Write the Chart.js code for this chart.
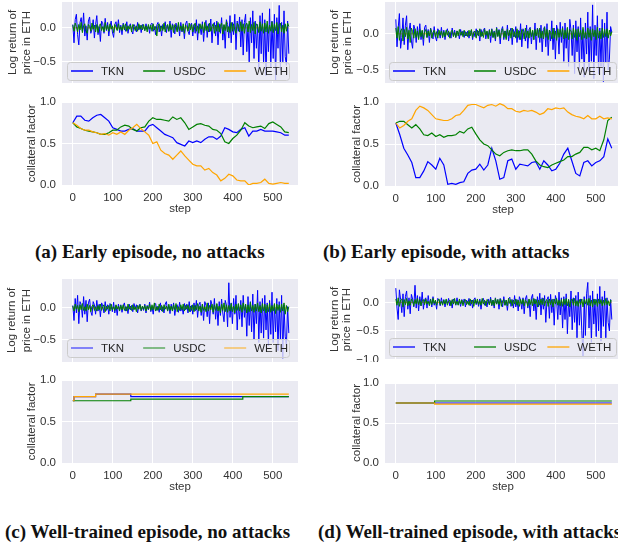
<!DOCTYPE html>
<html>
<head>
<meta charset="utf-8">
<script src="https://cdn.jsdelivr.net/npm/chart.js@4.4.1/dist/chart.umd.min.js"></script>
<style>
  body { margin: 0; width: 618px; height: 545px; overflow: hidden; background: #fff; position: relative; }
  .plot { position: absolute; }
  .cap { position: absolute; font: bold 19px "Liberation Serif", serif; color: #111; white-space: nowrap; line-height: 20px; }
</style>
</head>
<body>
<div class="cap" style="left:35px;top:242px">(a) Early episode, no attacks</div>
<div class="cap" style="left:323px;top:242px">(b) Early episode, with attacks</div>
<div class="cap" style="left:5px;top:522px">(c) Well-trained episode, no attacks</div>
<div class="cap" style="left:318px;top:522px">(d) Well-trained episode, with attacks</div>
<script>
// series names and colours
const seriesNames = ['TKN', 'USDC', 'WETH'];
const seriesColors = ['#0000ff', '#008000', '#ffa500'];
const stepTicks = [0, 100, 200, 300, 400, 500];
const cfTicks = [0, 0.5, 1];

// log return sampled every 3 steps (0..540), collateral factor every 10 steps (0..540)
const retSteps = Array.from({length: 181}, (_, i) => i * 3);
const cfSteps = Array.from({length: 55}, (_, i) => i * 10);
const wethRetSteps = [0, 540];
const wethRet = [0, 0];

// (a) early episode, no attacks
const aTknRet = [0.05,-0.22,0.12,0.2,-0.1,-0.25,0.08,0.15,-0.05,0.22,-0.12,0.03,-0.18,0.1,0.16,-0.08,-0.02,0.12,-0.15,0.05,
  0.18,-0.1,0.02,-0.2,0.1,0.06,-0.08,0.14,-0.04,0.08,-0.12,0.03,0.1,-0.06,-0.14,0.05,0.09,-0.03,0.12,-0.07,
  0.04,-0.1,0.07,0.02,-0.05,0.09,-0.08,0.03,0.06,-0.04,-0.09,0.05,0.02,-0.06,0.08,-0.03,0.04,-0.07,0.05,0.01,
  -0.04,0.06,-0.02,0.03,-0.08,0.05,0.07,-0.05,0.02,-0.1,0.04,0.08,-0.06,0.03,-0.12,0.05,-0.02,0.09,-0.07,0.04,
  -0.05,0.1,-0.14,0.06,0.02,-0.09,0.07,-0.04,0.05,-0.12,0.08,-0.06,0.03,-0.16,0.06,0.1,-0.05,-0.1,0.04,0.07,
  -0.12,0.05,-0.08,0.12,-0.18,0.06,0.02,-0.1,0.09,-0.2,0.04,0.11,-0.14,0.06,-0.06,0.13,-0.22,0.05,0.08,-0.12,
  0.1,-0.25,0.06,-0.08,0.15,-0.18,0.04,-0.3,0.12,0.05,-0.15,0.18,-0.22,0.08,-0.1,0.2,-0.32,0.1,-0.05,0.16,
  -0.28,0.12,-0.4,0.08,0.2,-0.35,0.05,-0.5,0.15,-0.22,0.25,-0.45,0.1,-0.3,0.05,-0.6,0.18,-0.38,0.22,-0.52,
  0.12,-0.7,0.05,-0.35,0.28,-0.58,0.1,-0.45,0.2,-0.78,0.15,-0.3,0.33,-0.62,0.08,-0.5,0.25,-0.42,-0.55,0.1,
  -0.38];
const aUsdcRet = [0.04,-0.05,0.07,0.02,-0.06,0.05,-0.03,0.08,-0.07,0.03,0.06,-0.04,-0.08,0.05,0.02,-0.05,0.07,-0.02,0.04,-0.06,
  0.05,-0.07,0.03,0.06,-0.04,0.02,-0.06,0.08,-0.03,0.04,-0.05,0.06,-0.02,0.03,-0.07,0.05,0.01,-0.04,0.06,-0.03,
  0.02,-0.04,0.05,-0.03,0.06,-0.05,0.03,-0.02,0.04,-0.06,0.05,0.02,-0.04,0.03,-0.05,0.06,-0.02,0.04,-0.03,0.05,
  -0.04,0.03,-0.06,0.05,-0.02,0.04,-0.05,0.06,-0.03,0.02,-0.12,0.04,0.06,-0.05,0.03,-0.04,0.07,-0.06,0.02,0.05,
  -0.05,0.06,-0.03,0.04,-0.07,0.05,0.02,-0.06,0.08,-0.04,0.03,-0.05,0.06,-0.08,0.04,0.02,-0.05,0.07,-0.03,0.05,
  -0.06,0.04,0.07,-0.05,0.03,-0.08,0.06,-0.02,0.05,-0.07,0.08,-0.04,0.03,-0.06,0.07,-0.05,0.02,0.06,-0.08,0.04,
  -0.05,0.08,-0.06,0.03,0.07,-0.09,0.05,-0.04,0.09,-0.06,0.02,-0.07,0.08,-0.05,0.06,-0.03,-0.08,0.07,0.04,-0.06,
  0.09,-0.05,0.06,-0.08,0.04,0.07,-0.06,0.1,-0.07,0.05,-0.04,0.08,-0.09,0.06,0.03,-0.07,0.09,-0.05,0.06,-0.08,
  0.07,-0.06,0.1,-0.08,0.04,-0.05,0.09,-0.07,0.06,-0.04,0.08,-0.09,0.05,0.07,-0.06,0.04,-0.08,0.06,-0.05,0.07,
  0.02];
const aTknCf = [0.75,0.83,0.83,0.78,0.77,0.81,0.84,0.85,0.81,0.77,0.69,0.67,0.65,0.65,0.67,0.68,0.65,0.65,0.65,0.71,
  0.73,0.69,0.65,0.61,0.59,0.57,0.51,0.49,0.47,0.53,0.51,0.53,0.51,0.55,0.58,0.58,0.55,0.59,0.69,0.67,
  0.64,0.63,0.67,0.69,0.59,0.65,0.65,0.67,0.65,0.65,0.65,0.64,0.63,0.6,0.6];
const aUsdcCf = [0.75,0.7,0.68,0.66,0.65,0.64,0.63,0.61,0.61,0.63,0.66,0.66,0.7,0.72,0.71,0.67,0.65,0.69,0.7,0.77,
  0.81,0.79,0.79,0.78,0.77,0.82,0.79,0.81,0.75,0.67,0.7,0.73,0.74,0.72,0.71,0.67,0.66,0.62,0.52,0.5,
  0.56,0.6,0.66,0.75,0.71,0.69,0.7,0.71,0.68,0.74,0.76,0.73,0.7,0.64,0.63];
const aWethCf = [0.75,0.72,0.68,0.66,0.66,0.64,0.63,0.61,0.62,0.6,0.63,0.61,0.64,0.61,0.66,0.69,0.73,0.68,0.64,0.6,
  0.5,0.52,0.42,0.38,0.36,0.31,0.36,0.41,0.35,0.3,0.25,0.23,0.23,0.18,0.2,0.15,0.12,0.05,0.08,0.13,
  0.11,0.06,0.05,0.05,0,0.02,0.02,0.03,0.07,0.02,0.01,0.02,0.03,0.02,0.02];

// (b) early episode, with attacks
const bTknRet = [0.2,-0.18,0.08,0.28,-0.2,-0.05,0.22,-0.15,0.12,0.25,-0.22,0.05,0.15,-0.1,-0.2,0.12,0.06,-0.12,0.1,-0.06,
  0.14,-0.08,0.04,-0.16,0.09,0.12,-0.05,0.06,-0.12,0.08,0.02,-0.07,0.1,-0.04,-0.1,0.07,0.03,-0.06,0.09,-0.05,
  0.05,-0.08,0.03,0.07,-0.04,0.02,-0.06,0.08,-0.03,0.05,-0.05,0.04,0.02,-0.07,0.06,-0.02,0.04,-0.05,0.03,-0.03,
  0.04,-0.06,0.02,0.05,-0.08,0.03,-0.04,0.07,-0.02,0.04,-0.1,0.06,-0.03,0.05,0.08,-0.07,0.03,-0.05,0.06,-0.12,
  0.07,-0.05,0.04,-0.1,0.09,-0.03,0.06,-0.14,0.05,0.1,-0.08,0.04,-0.06,0.12,-0.1,0.03,0.08,-0.15,0.06,-0.04,
  0.1,-0.12,0.05,-0.08,0.14,-0.18,0.07,0.02,-0.1,0.12,-0.2,0.06,0.09,-0.14,0.04,-0.08,0.15,-0.22,0.08,0.03,
  -0.12,0.12,-0.25,0.06,0.1,-0.18,0.14,-0.3,0.05,-0.1,0.18,-0.22,0.08,-0.35,0.12,0.04,-0.28,0.16,-0.12,0.1,
  -0.38,0.15,-0.2,0.08,-0.45,0.2,0.05,-0.3,0.12,-0.55,0.18,-0.25,0.1,-0.48,0.22,-0.35,0.06,-0.6,0.15,-0.28,
  0.3,-0.52,0.1,-0.38,0.4,-0.62,0.12,-0.3,0.25,-0.55,0.08,-0.45,0.2,-0.66,0.15,-0.4,0.3,-0.5,-0.35,0.1,
  0.02];
const bUsdcRet = [0.08,-0.06,0.1,-0.09,0.04,0.07,-0.1,0.06,-0.04,0.09,-0.07,0.05,-0.12,0.08,0.03,-0.06,0.07,-0.05,0.04,-0.08,
  0.06,-0.04,0.05,-0.07,0.03,0.06,-0.05,0.04,-0.03,0.07,-0.06,0.02,0.05,-0.04,0.03,-0.06,0.05,-0.02,0.04,-0.05,
  0.03,-0.04,0.05,-0.02,0.04,-0.06,0.03,0.05,-0.04,0.02,-0.05,0.04,-0.03,0.06,-0.02,0.03,-0.04,0.05,-0.03,0.02,
  -0.04,0.05,-0.03,0.06,-0.05,0.02,0.04,-0.06,0.05,-0.03,0.07,-0.04,0.03,-0.05,0.06,-0.02,0.04,-0.07,0.05,-0.03,
  0.06,-0.05,0.03,-0.07,0.08,-0.04,0.05,-0.06,0.02,0.07,-0.05,0.04,-0.08,0.06,-0.03,0.05,-0.06,0.08,-0.04,0.03,
  -0.06,0.07,-0.05,0.04,-0.08,0.06,0.03,-0.07,0.08,-0.05,0.04,-0.06,0.07,-0.04,0.05,-0.08,0.06,-0.03,0.07,-0.05,
  0.08,-0.06,0.04,-0.07,0.09,-0.05,0.06,-0.08,0.05,0.03,-0.07,0.08,-0.06,0.04,-0.09,0.07,-0.05,0.06,-0.04,0.08,
  -0.07,0.05,-0.06,0.09,-0.08,0.06,0.04,-0.07,0.08,-0.05,0.06,-0.09,0.07,-0.04,0.05,-0.08,0.09,-0.06,0.03,-0.07,
  0.08,-0.05,0.06,-0.09,0.07,-0.04,0.05,-0.08,0.09,-0.06,0.04,-0.07,0.08,-0.05,0.06,-0.04,0.07,-0.06,0.05,-0.03,
  0.03];
const bTknCf = [0.75,0.61,0.45,0.37,0.28,0.1,0.1,0.18,0.29,0.25,0.2,0.33,0.25,0.02,0.03,0.02,0.04,0.05,0.15,0.19,
  0.2,0.26,0.19,0.25,0.45,0.3,0.08,0.1,0.3,0.32,0.2,0.26,0.25,0.24,0.28,0.29,0.2,0.3,0.25,0.18,
  0.2,0.27,0.38,0.45,0.3,0.15,0.12,0.28,0.3,0.24,0.28,0.3,0.35,0.56,0.45];
const bUsdcCf = [0.75,0.77,0.77,0.73,0.69,0.73,0.68,0.61,0.6,0.63,0.59,0.61,0.58,0.6,0.6,0.61,0.65,0.63,0.68,0.7,
  0.62,0.55,0.5,0.48,0.43,0.38,0.36,0.4,0.42,0.43,0.42,0.42,0.43,0.43,0.38,0.3,0.25,0.23,0.22,0.25,
  0.27,0.29,0.31,0.35,0.35,0.38,0.4,0.46,0.46,0.43,0.45,0.42,0.55,0.78,0.82];
const bWethCf = [0.75,0.69,0.72,0.77,0.8,0.9,0.95,0.93,0.9,0.85,0.8,0.79,0.78,0.78,0.8,0.84,0.85,0.9,0.96,0.97,
  0.97,0.95,0.93,0.96,0.97,0.95,0.98,0.96,0.92,0.92,0.89,0.88,0.9,0.89,0.9,0.88,0.85,0.87,0.92,0.91,
  0.93,0.92,0.93,0.88,0.85,0.83,0.82,0.8,0.84,0.8,0.8,0.83,0.8,0.81,0.8];

// (c) well-trained episode, no attacks
const cTknRet = [0.04,-0.2,0.15,-0.08,0.2,-0.25,0.1,0.05,-0.15,0.18,-0.1,0.12,-0.22,0.08,0.14,-0.06,-0.12,0.1,0.05,-0.1,
  0.12,-0.05,0.06,-0.14,0.08,0.03,-0.08,0.1,-0.04,0.05,-0.1,0.07,0.02,-0.06,0.09,-0.08,0.04,-0.12,0.06,-0.03,
  0.05,-0.07,0.03,0.08,-0.05,0.02,-0.09,0.06,-0.03,0.04,-0.06,0.07,-0.02,0.05,-0.08,0.03,0.06,-0.05,0.02,-0.04,
  0.06,-0.08,0.04,-0.03,0.09,-0.06,0.02,-0.1,0.05,0.07,-0.04,0.03,-0.07,0.08,-0.05,0.02,-0.08,0.06,0.1,-0.05,
  0.04,-0.09,0.06,-0.04,0.08,-0.12,0.03,0.05,-0.07,0.09,-0.05,0.02,-0.1,0.07,-0.03,0.06,-0.08,0.1,-0.06,0.04,
  -0.1,0.08,-0.05,0.12,-0.15,0.05,0.09,-0.12,0.06,-0.2,0.1,0.04,-0.14,0.08,-0.25,0.12,0.05,-0.1,0.15,-0.18,
  0.06,-0.28,0.1,-0.12,0.14,-0.08,-0.22,0.12,0.05,-0.3,0.4,-0.15,0.08,-0.25,0.15,-0.1,0.2,-0.35,0.06,-0.18,
  0.12,-0.3,0.2,-0.15,0.05,-0.45,0.18,-0.28,0.1,-0.38,0.22,-0.5,0.06,-0.25,0.28,-0.55,0.1,-0.4,0.15,-0.48,
  0.2,-0.35,0.08,-0.6,0.12,-0.42,0.25,-0.55,0.05,-0.38,0.15,-0.68,0.1,-0.5,0.2,-0.8,0.05,-0.45,-0.6,0.02,
  -0.4];
const cUsdcRet = [0.03,-0.05,0.06,-0.02,0.04,-0.06,0.05,-0.03,0.07,-0.04,0.02,-0.05,0.06,-0.03,0.04,-0.06,0.03,0.05,-0.04,0.02,
  -0.05,0.04,-0.03,0.06,-0.04,0.02,0.05,-0.06,0.03,-0.02,0.04,-0.05,0.06,-0.03,0.02,-0.04,0.05,-0.02,0.03,-0.05,
  0.04,-0.03,0.05,-0.04,0.02,-0.05,0.06,-0.02,0.03,-0.04,0.05,-0.03,0.02,-0.06,0.04,-0.02,0.05,-0.04,0.03,-0.02,
  0.04,-0.05,0.03,-0.02,0.06,-0.04,0.05,-0.03,0.08,-0.05,0.02,-0.04,0.06,-0.03,0.04,-0.06,0.05,-0.02,0.03,-0.05,
  0.06,-0.04,0.03,-0.05,0.05,-0.03,0.07,-0.06,0.02,-0.04,0.05,-0.03,0.06,-0.05,0.04,-0.02,0.05,-0.06,0.03,-0.04,
  0.05,-0.06,0.04,-0.03,0.07,-0.05,0.03,-0.07,0.06,-0.04,0.02,-0.06,0.08,-0.05,0.04,-0.03,0.06,-0.07,0.05,-0.04,
  0.07,-0.05,0.03,-0.08,0.06,-0.04,0.08,-0.06,0.05,-0.07,0.04,-0.05,0.07,-0.06,0.03,-0.08,0.06,-0.04,0.07,-0.05,
  0.05,-0.07,0.08,-0.04,0.06,-0.08,0.05,-0.06,0.09,-0.05,0.04,-0.07,0.06,-0.05,0.08,-0.06,0.04,-0.08,0.07,-0.05,
  0.06,-0.08,0.05,-0.06,0.08,-0.07,0.04,-0.05,0.07,-0.09,0.06,-0.04,0.05,-0.07,0.06,-0.05,0.08,-0.1,0.04,-0.06,
  0.02];
const cTknCfSteps = [0, 3, 57, 145, 540];
const cTknCf = [0.75, 0.8, 0.83, 0.8, 0.8];
const cUsdcCfSteps = [0, 145, 425, 540];
const cUsdcCf = [0.75, 0.77, 0.8, 0.8];
const cWethCfSteps = [0, 3, 57, 540];
const cWethCf = [0.75, 0.8, 0.83, 0.83];

// (d) well-trained episode, with attacks
const dTknRet = [0.25,-0.1,-0.3,0.22,0.05,-0.18,0.15,-0.25,0.1,0.2,-0.12,0.08,-0.2,0.14,0.06,-0.08,0.3,-0.1,0.12,-0.15,
  0.1,-0.06,0.18,-0.12,0.05,0.08,-0.1,0.12,-0.04,0.06,-0.08,0.1,-0.05,0.03,-0.12,0.07,0.04,-0.06,0.08,-0.03,
  0.05,-0.08,0.04,-0.02,0.07,-0.06,0.03,-0.1,0.06,0.02,-0.05,0.08,-0.04,0.03,-0.07,0.05,-0.03,0.06,-0.08,0.04,
  -0.02,0.07,-0.06,0.04,-0.1,0.05,0.08,-0.04,0.03,-0.07,0.06,-0.12,0.04,0.07,-0.05,0.02,-0.08,0.06,-0.04,0.09,
  -0.06,0.04,-0.1,0.08,-0.03,0.05,-0.12,0.07,0.03,-0.08,0.1,-0.05,0.04,-0.14,0.06,0.09,-0.07,0.05,-0.1,0.12,
  -0.08,0.05,-0.15,0.1,0.04,-0.12,0.08,-0.2,0.06,0.12,-0.1,0.05,-0.25,0.08,0.14,-0.15,0.06,-0.3,0.1,-0.08,
  0.16,-0.22,0.08,-0.12,0.12,-0.35,0.05,0.1,-0.28,0.14,-0.18,0.06,-0.4,0.12,0.04,-0.3,0.18,-0.22,0.08,-0.45,
  0.1,-0.3,0.15,-0.55,0.05,-0.25,0.2,-0.48,0.08,-0.35,0.12,-0.62,0.18,-0.4,0.06,-0.5,-0.95,0.1,-0.58,0.15,
  0.35,-0.45,0.12,-0.7,0.2,-0.38,0.06,-0.6,0.15,-0.5,0.28,-0.68,0.1,-0.42,0.2,-0.62,0.08,-0.35,-0.5,0.05,
  -0.3];
const dUsdcRet = [0.06,-0.05,0.08,-0.07,0.04,0.06,-0.08,0.05,-0.04,0.07,-0.06,0.03,-0.05,0.06,0.02,-0.06,0.05,-0.03,0.07,-0.04,
  0.05,-0.06,0.03,0.05,-0.04,0.06,-0.03,0.02,-0.06,0.05,-0.04,0.07,-0.02,0.04,-0.05,0.03,0.06,-0.04,0.02,-0.05,
  0.04,-0.03,0.06,-0.05,0.02,0.04,-0.06,0.05,-0.03,0.07,-0.04,0.02,-0.05,0.06,-0.03,0.04,-0.06,0.03,0.05,-0.04,
  0.02,-0.05,0.06,-0.03,0.04,-0.07,0.05,-0.02,0.06,-0.04,0.03,-0.05,0.07,-0.03,0.04,-0.06,0.05,0.02,-0.04,0.06,
  -0.05,0.04,-0.06,0.07,-0.03,0.05,-0.04,0.06,-0.07,0.03,0.05,-0.05,0.04,-0.06,0.07,-0.02,0.05,-0.06,0.04,-0.03,
  0.06,-0.05,0.04,-0.07,0.05,-0.03,0.06,-0.06,0.04,0.02,-0.07,0.06,-0.04,0.05,-0.06,0.07,-0.03,0.05,-0.08,0.04,
  -0.05,0.06,-0.04,0.07,-0.06,0.03,0.05,-0.07,0.06,-0.04,0.05,-0.08,0.06,-0.03,0.07,-0.05,0.04,-0.06,0.05,-0.07,
  0.06,-0.04,0.07,-0.06,0.05,-0.08,0.04,0.06,-0.05,0.07,-0.06,0.03,-0.07,0.05,-0.04,0.06,-0.08,0.05,-0.03,0.06,
  -0.05,0.07,-0.06,0.04,-0.08,0.06,-0.04,0.05,-0.07,0.06,-0.03,0.05,-0.06,0.04,-0.05,0.07,-0.04,0.03,-0.06,0.04,
  0.02];
const dTknCfSteps = [0, 540];
const dTknCf = [0.75, 0.75];
const dUsdcCfSteps = [0, 97, 540];
const dUsdcCf = [0.75, 0.775, 0.775];
const dWethCfSteps = [0, 97, 540];
const dWethCf = [0.75, 0.735, 0.735];

const FONT = 'Liberation Sans';
const TEXT = '#333';

function pts(xs, ys) { return ys.map((y, i) => ({x: xs[i], y: y})); }
function fmt(v) { return (v < 0 ? '\u2212' : '') + Math.abs(v).toFixed(1); }

// grey axes background
const bgPlugin = {
  id: 'bgArea',
  beforeDraw(c) {
    const a = c.chartArea, ctx = c.ctx;
    ctx.save();
    ctx.fillStyle = '#eaeaf2';
    ctx.fillRect(a.left, a.top, a.right - a.left, a.bottom - a.top);
    ctx.restore();
  }
};

// legend box sitting inside the axes, like matplotlib mode="expand"
function legendPlugin(lg) {
  return {
    id: 'boxLegend',
    afterDatasetsDraw(c) {
      if (!lg) return;
      const a = c.chartArea, ctx = c.ctx;
      const x0 = a.left + lg.dx, y1 = a.bottom - lg.gap, y0 = y1 - lg.h;
      ctx.save();
      ctx.beginPath();
      ctx.roundRect(x0 + 0.5, y0 + 0.5, lg.w, lg.h, 3);
      ctx.fillStyle = 'rgba(234,234,242,0.8)';
      ctx.fill();
      ctx.strokeStyle = '#cccccc';
      ctx.lineWidth = 1;
      ctx.stroke();
      const cy = (y0 + y1) / 2;
      seriesNames.forEach((name, i) => {
        const lx = x0 + 4 + lg.cols[i] * lg.w;
        ctx.globalAlpha = lg.alpha;
        ctx.strokeStyle = seriesColors[i];
        ctx.lineWidth = 1.5;
        ctx.beginPath();
        ctx.moveTo(lx, cy); ctx.lineTo(lx + 22, cy);
        ctx.stroke();
        ctx.globalAlpha = 1;
        ctx.fillStyle = '#262626';
        ctx.font = '11.5px "' + FONT + '"';
        ctx.textBaseline = 'middle';
        ctx.fillText(name, lx + 30, cy + 0.5);
      });
      ctx.restore();
    }
  };
}

function addPlot(o) {
  const cv = document.createElement('canvas');
  const w = o.axisW + o.plotW + o.padR, h = o.padT + o.plotH + o.xAxisH;
  cv.width = w; cv.height = h;
  cv.className = 'plot';
  cv.style.left = o.x + 'px'; cv.style.top = o.y + 'px';
  cv.style.width = w + 'px'; cv.style.height = h + 'px';
  document.body.appendChild(cv);

  // lower order is painted last (on top)
  const datasets = o.series.map((s, i) => ({
    label: seriesNames[i],
    data: s,
    borderColor: seriesColors[i],
    borderWidth: o.lw,
    pointRadius: 0,
    fill: false,
    tension: 0,
    stepped: o.stepped || false,
    order: o.order[i]
  }));

  new Chart(cv.getContext('2d'), {
    type: 'line',
    data: {datasets: datasets},
    options: {
      responsive: false,
      animation: false,
      devicePixelRatio: 1,
      layout: {padding: {top: o.padT, right: o.padR, left: 0, bottom: 0}},
      plugins: {legend: {display: false}, tooltip: {enabled: false}},
      scales: {
        x: {
          type: 'linear', min: -27, max: 563,
          grid: {color: '#ffffff', lineWidth: 1, drawTicks: false},
          border: {display: false},
          ticks: {display: o.showX, padding: 6, color: TEXT, font: {family: FONT, size: 11.5}, callback: v => String(v)},
          afterBuildTicks: s => { s.ticks = stepTicks.map(v => ({value: v})); },
          afterFit: s => { s.height = o.xAxisH; s.paddingLeft = 0; s.paddingRight = 0; },
          title: {display: o.showX, text: 'step', color: TEXT, font: {family: FONT, size: 11.5}, padding: {top: 0, bottom: 1}}
        },
        y: {
          min: o.yMin, max: o.yMax,
          grid: {color: '#ffffff', lineWidth: 1, drawTicks: false},
          border: {display: false},
          ticks: {padding: 6, color: TEXT, font: {family: FONT, size: 11.5}, callback: v => fmt(v)},
          afterBuildTicks: s => { s.ticks = o.yTicks.map(v => ({value: v})); },
          afterFit: s => { s.width = o.axisW; s.paddingTop = 0; s.paddingBottom = 0; },
          title: {display: true, text: o.yTitle, color: TEXT,
                  font: {family: FONT, size: 11.5, lineHeight: o.titleLH / 11.5},
                  padding: {top: o.titlePad, bottom: 0}}
        }
      }
    },
    plugins: [bgPlugin, legendPlugin(o.legend)]
  });
}

const retTitle = ['Log return of', 'price in ETH'];
const cfTitle = 'collateral factor';
const retOrder = [2, 1, 3];
const cfOrder = [3, 2, 1];
const legLeft = {dx: 5, w: 222, h: 18, gap: 3, cols: [0, 0.325, 0.69], alpha: 1};
const legRight = {dx: 4, w: 227, h: 18, gap: 3, cols: [0, 0.357, 0.68], alpha: 1};

// (a)
addPlot({x: 0, y: 0, axisW: 62, plotW: 236, padR: 4, padT: 2, plotH: 81, xAxisH: 2,
  yMin: -0.81, yMax: 0.38, yTicks: [-0.5, 0], yTitle: retTitle, titleLH: 14.6, titlePad: 5.4,
  showX: false, lw: 1, legend: legLeft, order: retOrder,
  series: [pts(retSteps, aTknRet), pts(retSteps, aUsdcRet), pts(wethRetSteps, wethRet)]});
addPlot({x: 0, y: 94, axisW: 62, plotW: 236, padR: 4, padT: 8, plotH: 83, xAxisH: 32,
  yMin: 0, yMax: 1, yTicks: cfTicks, yTitle: cfTitle, titleLH: 13.8, titlePad: 25,
  showX: true, lw: 1.2, legend: null, order: cfOrder,
  series: [pts(cfSteps, aTknCf), pts(cfSteps, aUsdcCf), pts(cfSteps, aWethCf)]});

// (b)
addPlot({x: 310, y: 0, axisW: 75, plotW: 236, padR: 4, padT: 2, plotH: 81, xAxisH: 2,
  yMin: -0.68, yMax: 0.44, yTicks: [-0.5, 0], yTitle: retTitle, titleLH: 12.4, titlePad: 18.8,
  showX: false, lw: 1, legend: legRight, order: retOrder,
  series: [pts(retSteps, bTknRet), pts(retSteps, bUsdcRet), pts(wethRetSteps, wethRet)]});
addPlot({x: 310, y: 94, axisW: 75, plotW: 236, padR: 4, padT: 8, plotH: 84, xAxisH: 32,
  yMin: 0, yMax: 1, yTicks: cfTicks, yTitle: cfTitle, titleLH: 13.8, titlePad: 40,
  showX: true, lw: 1.2, legend: null, order: cfOrder,
  series: [pts(cfSteps, bTknCf), pts(cfSteps, bUsdcCf), pts(cfSteps, bWethCf)]});

// (c)
addPlot({x: 0, y: 271, axisW: 62, plotW: 236, padR: 4, padT: 8, plotH: 83, xAxisH: 2,
  yMin: -0.86, yMax: 0.46, yTicks: [-0.5, 0], yTitle: retTitle, titleLH: 15, titlePad: 4.2,
  showX: false, lw: 1, legend: Object.assign({}, legLeft, {gap: 5, alpha: 0.6}), order: retOrder,
  series: [pts(retSteps, cTknRet), pts(retSteps, cUsdcRet), pts(wethRetSteps, wethRet)]});
addPlot({x: 0, y: 372, axisW: 62, plotW: 236, padR: 4, padT: 8, plotH: 83, xAxisH: 32,
  yMin: 0, yMax: 1, yTicks: cfTicks, yTitle: cfTitle, titleLH: 13.8, titlePad: 25,
  showX: true, lw: 1.2, legend: null, stepped: true, order: cfOrder,
  series: [pts(cTknCfSteps, cTknCf), pts(cUsdcCfSteps, cUsdcCf), pts(cWethCfSteps, cWethCf)]});

// (d)
addPlot({x: 310, y: 271, axisW: 75, plotW: 236, padR: 4, padT: 8, plotH: 81, xAxisH: 2,
  yMin: -1.01, yMax: 0.41, yTicks: [-1, -0.5, 0], yTitle: retTitle, titleLH: 12.3, titlePad: 18.8,
  showX: false, lw: 1, legend: Object.assign({}, legRight, {gap: 4, alpha: 0.85}), order: retOrder,
  series: [pts(retSteps, dTknRet), pts(retSteps, dUsdcRet), pts(wethRetSteps, wethRet)]});
addPlot({x: 310, y: 375, axisW: 75, plotW: 236, padR: 4, padT: 8, plotH: 80, xAxisH: 32,
  yMin: 0, yMax: 1, yTicks: cfTicks, yTitle: cfTitle, titleLH: 13.8, titlePad: 40,
  showX: true, lw: 1.2, legend: null, stepped: true, order: cfOrder,
  series: [pts(dTknCfSteps, dTknCf), pts(dUsdcCfSteps, dUsdcCf), pts(dWethCfSteps, dWethCf)]});
</script>
</body>
</html>
